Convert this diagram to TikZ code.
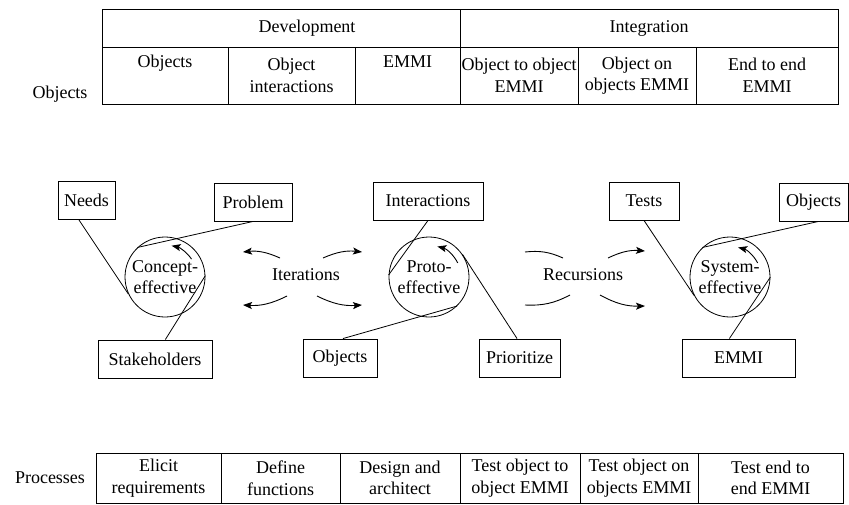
\documentclass[tikz,border=0pt]{standalone}
\usepackage{fontspec}
\setmainfont{Liberation Serif}
\usetikzlibrary{calc,arrows.meta}
\begin{document}
\begin{tikzpicture}[x=1pt,y=-1pt,
  every node/.style={font=\fontsize{18}{21.5}\selectfont, inner sep=0pt},
  cell/.style={draw, line width=0.9pt, align=center},
  box/.style={draw, line width=0.9pt, minimum height=38},
  ring/.style={draw, line width=0.8pt, circle, minimum size=80, align=center},
  link/.style={line width=0.8pt},
  arr/.style={line width=0.9pt, -{Stealth[length=9pt,width=7pt,inset=2pt]}},
  curve/.style={line width=0.9pt}
]
\useasboundingbox (0,0) rectangle (849,504);

% ---- upper table: objects ----
\node[cell, minimum width=358, minimum height=38] (dev) at (281,28) {};
\node (devtxt) at (307,28) {Development};
\node[cell, minimum width=378, minimum height=38] (int) at (649,28) {Integration};
\node[cell, minimum width=126, minimum height=57] (o1) at (165,75.5) {Objects\\\strut};
\node[cell, minimum width=127, minimum height=57] (o2) at (291.5,75.5) {Object\\interactions};
\node[cell, minimum width=105, minimum height=57] (o3) at (407.5,75.5) {EMMI\\\strut};
\node[cell, minimum width=118, minimum height=57] (o4) at (519,75.5) {Object to object\\EMMI};
\node[cell, minimum width=118, minimum height=57] (o5) at (637,75.5) {Object on\\objects EMMI};
\node[cell, minimum width=142, minimum height=57] (o6) at (767,75.5) {End to end\\EMMI};
\node (objlbl) at (60,94) {Objects};

% ---- lower table: processes ----
\node[cell, minimum width=125, minimum height=50] (p1) at (158.5,478) {Elicit\\requirements};
\node[cell, minimum width=119, minimum height=50] (p2) at (280.5,478) {Define\\functions};
\node[cell, minimum width=120, minimum height=50] (p3) at (400,478) {Design and\\architect};
\node[cell, minimum width=120, minimum height=50] (p4) at (520,478) {Test object to\\object EMMI};
\node[cell, minimum width=118, minimum height=50] (p5) at (639,478) {Test object on\\objects EMMI};
\node[cell, minimum width=145, minimum height=50] (p6) at (770.5,478) {Test end to\\end EMMI};
\node (proclbl) at (50,478) {Processes};

% ---- concept-effective ----
\node[ring] (c1) at (165,277) {Concept-\\effective};
\node[box, minimum width=57] (needs) at (86.5,200.5) {Needs};
\node[box, minimum width=78] (problem) at (253,202) {Problem};
\node[box, minimum width=114] (stake) at (155,359) {Stakeholders};
\draw[link] ($(needs.south west)!0.37!(needs.south east)$) -- (c1.205);
\draw[link] (problem.south) -- (c1.133);
\draw[link] ($(stake.north west)!0.59!(stake.north east)$) -- (c1.2);
\draw[arr] ($(c1.center)+(34:32pt)$) arc[start angle=34, end angle=78, radius=32pt];

% ---- proto-effective ----
\node[ring] (c2) at (429,277) {Proto-\\effective};
\node[box, minimum width=110] (inter) at (428,201) {Interactions};
\node[box, minimum width=74] (objm) at (340,358) {Objects};
\node[box, minimum width=81] (prio) at (519.5,358) {Prioritize};
\draw[link] (inter.south) -- (c2.177);
\draw[link] ($(objm.north west)!0.54!(objm.north east)$) -- (c2.314);
\draw[link] ($(prio.north west)!0.47!(prio.north east)$) -- (c2.34);
\draw[arr] ($(c2.center)+(26:32pt)$) arc[start angle=26, end angle=76, radius=31pt];

% ---- system-effective ----
\node[ring] (c3) at (730,277) {System-\\effective};
\node[box, minimum width=70] (tests) at (644,201) {Tests};
\node[box, minimum width=69] (objr) at (813.5,202) {Objects};
\node[box, minimum width=113] (emmi) at (738.5,358) {EMMI};
\draw[link] (tests.south) -- (c3.207);
\draw[link] ($(objr.south west)!0.57!(objr.south east)$) -- (c3.133);
\draw[link] ($(emmi.north west)!0.42!(emmi.north east)$) -- (c3.0);
\draw[arr] ($(c3.center)+(27:31pt)$) arc[start angle=27, end angle=76, radius=30pt];

% ---- iterations ----
\node (iter) at (306,275) {Iterations};
\coordinate (i1a) at (280,258); \coordinate (i1b) at (243,252);
\coordinate (i2a) at (323,258); \coordinate (i2b) at (362,252);
\coordinate (i3a) at (287,296); \coordinate (i3b) at (243,305);
\coordinate (i4a) at (317,296); \coordinate (i4b) at (362,305);
\draw[arr] (i1a) to[bend right=15] (i1b);
\draw[arr] (i2a) to[bend left=15] (i2b);
\draw[arr] (i3a) to[bend left=15] (i3b);
\draw[arr] (i4a) to[bend right=15] (i4b);

% ---- recursions ----
\node (recu) at (583,275) {Recursions};
\coordinate (r1a) at (525,252); \coordinate (r1b) at (563,258);
\coordinate (r2a) at (608,258); \coordinate (r2b) at (645,251);
\coordinate (r3a) at (525,305); \coordinate (r3b) at (570,295);
\coordinate (r4a) at (600,295); \coordinate (r4b) at (645,306);
\draw[curve] (r1a) to[bend left=15] (r1b);
\draw[arr] (r2a) to[bend left=15] (r2b);
\draw[curve] (r3a) to[bend right=15] (r3b);
\draw[arr] (r4a) to[bend right=15] (r4b);
\end{tikzpicture}
\end{document}
